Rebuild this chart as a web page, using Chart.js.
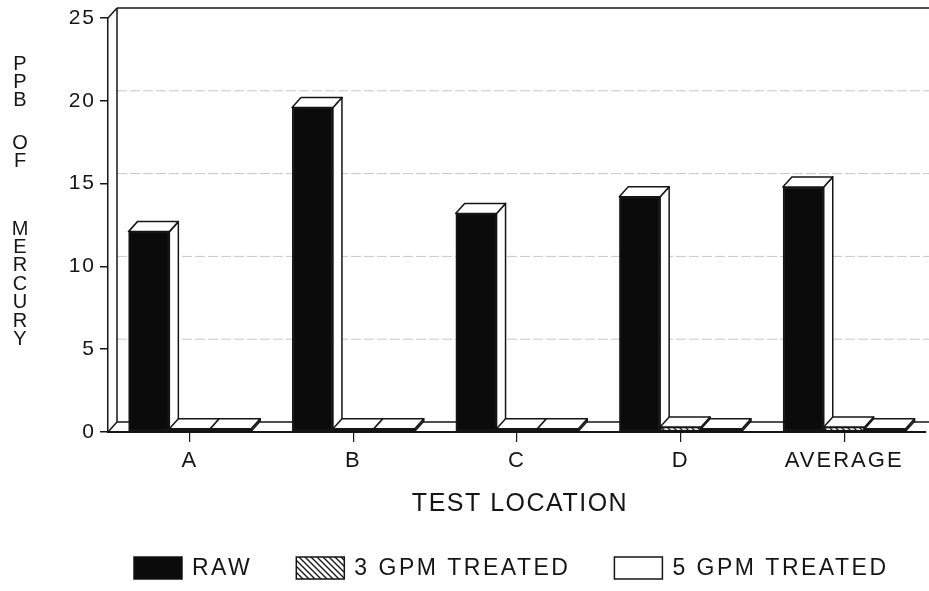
<!DOCTYPE html>
<html>
<head>
<meta charset="utf-8">
<script src="https://cdn.jsdelivr.net/npm/chart.js@4.4.0/dist/chart.umd.min.js"></script>
<style>
  html, body { margin: 0; padding: 0; background: #fff; }
  canvas { display: block; }
</style>
</head>
<body>
<canvas id="chart" width="929" height="591"></canvas>
<script>
// mercury (PPB) by test location, raw vs treated
const LOCATIONS = ['A', 'B', 'C', 'D', 'AVERAGE'];
const RAW = [12.1, 19.6, 13.2, 14.2, 14.8];
const GPM3 = [0.2, 0.2, 0.2, 0.3, 0.3];
const GPM5 = [0.2, 0.2, 0.2, 0.2, 0.2];
const Y_TICKS = [0, 5, 10, 15, 20, 25];
const SERIES_NAMES = ['RAW', '3 GPM TREATED', '5 GPM TREATED'];
const Y_TITLE_WORDS = ['PPB', 'OF', 'MERCURY'];
const X_TITLE = 'TEST LOCATION';

const FONT = "'Liberation Sans', Arial, sans-serif";
const INK = '#151515';
const DX = 9, DY = -10; // depth of the fake 3D

// diagonal hatch for the 3 GPM bars
function makeHatch() {
  const c = document.createElement('canvas');
  c.width = 6; c.height = 6;
  const g = c.getContext('2d');
  g.fillStyle = '#fff';
  g.fillRect(0, 0, 6, 6);
  g.strokeStyle = '#111';
  g.lineWidth = 1.3;
  g.beginPath();
  g.moveTo(-3, 3); g.lineTo(3, 9);
  g.moveTo(0, 0); g.lineTo(6, 6);
  g.moveTo(3, -3); g.lineTo(9, 3);
  g.stroke();
  return g.createPattern(c, 'repeat');
}
const HATCH = makeHatch();

function seg(ctx, x1, y1, x2, y2) {
  ctx.beginPath();
  ctx.moveTo(x1, y1);
  ctx.lineTo(x2, y2);
  ctx.stroke();
}

function poly(ctx, pts) {
  ctx.beginPath();
  ctx.moveTo(pts[0][0], pts[0][1]);
  pts.slice(1).forEach(p => ctx.lineTo(p[0], p[1]));
  ctx.closePath();
  ctx.fill();
  ctx.stroke();
}

const depthPlugin = {
  id: 'depth',
  beforeUpdate(chart) { chart.ctx.letterSpacing = '2px'; },
  beforeDraw(chart) { chart.ctx.letterSpacing = '2px'; },

  // back wall, floor and grid lines
  beforeDatasetsDraw(chart) {
    const { ctx, chartArea: a, scales: { y } } = chart;
    const top = y.getPixelForValue(y.max);
    const bot = y.getPixelForValue(0);
    ctx.save();
    ctx.strokeStyle = '#c6c6c6';
    ctx.lineWidth = 1;
    ctx.setLineDash([10, 3]);
    Y_TICKS.forEach(v => {
      if (v === 0 || v === y.max) return;
      const py = y.getPixelForValue(v) + DY;
      seg(ctx, a.left + DX, py, a.right + DX, py);
    });
    ctx.setLineDash([]);
    ctx.strokeStyle = INK;
    ctx.lineWidth = 1.5;
    seg(ctx, a.left + DX, top + DY, a.left + DX, bot + DY);
    seg(ctx, a.left + DX, top + DY, a.right + DX, top + DY);
    seg(ctx, a.left, top, a.left + DX, top + DY);
    seg(ctx, a.left, bot, a.left + DX, bot + DY);
    seg(ctx, a.left + DX, bot + DY, a.right + DX, bot + DY);
    ctx.restore();
  },

  // side + cap of every bar, left to right
  afterDatasetsDraw(chart) {
    const { ctx, chartArea: a } = chart;
    const metas = chart.data.datasets.map((d, i) => chart.getDatasetMeta(i));
    ctx.save();
    ctx.strokeStyle = INK;
    ctx.lineWidth = 1.5;
    ctx.lineJoin = 'round';
    for (let i = 0; i < LOCATIONS.length; i++) {
      metas.forEach(meta => {
        const el = meta.data[i];
        const { x, y, base, width } = el.getProps(['x', 'y', 'base', 'width'], true);
        const l = x - width / 2, r = x + width / 2;
        ctx.fillStyle = '#fff';
        poly(ctx, [[r, y], [r + DX, y + DY], [r + DX, base + DY], [r, base]]);
        poly(ctx, [[l, y], [l + DX, y + DY], [r + DX, y + DY], [r, y]]);
        el.draw(ctx, a);
      });
    }
    ctx.restore();
  },

  // stacked y title, x title and legend
  afterDraw(chart) {
    const { ctx, chartArea: a } = chart;
    ctx.save();
    ctx.fillStyle = INK;
    ctx.textAlign = 'center';
    ctx.textBaseline = 'middle';

    ctx.letterSpacing = '0px';
    ctx.font = `20px ${FONT}`;
    const pitch = 18.4;
    const wordGaps = [24, 49];
    let py = 64;
    Y_TITLE_WORDS.forEach((w, wi) => {
      [...w].forEach(ch => {
        ctx.fillText(ch, 20, py);
        py += pitch;
      });
      py += wordGaps[wi] || 0;
    });

    ctx.letterSpacing = '1.5px';
    ctx.font = `25px ${FONT}`;
    ctx.fillText(X_TITLE, (a.left + a.right) / 2 + 3, 504);

    // legend
    ctx.letterSpacing = '2.5px';
    ctx.font = `23px ${FONT}`;
    ctx.textAlign = 'left';
    const boxW = 48, boxH = 22, gapText = 10, gapItem = 44;
    const boxTop = 557;
    let x = a.left + 26;
    chart.data.datasets.forEach(ds => {
      ctx.fillStyle = ds.backgroundColor;
      ctx.strokeStyle = INK;
      ctx.lineWidth = 1.5;
      ctx.fillRect(x, boxTop, boxW, boxH);
      ctx.strokeRect(x, boxTop, boxW, boxH);
      x += boxW + gapText;
      ctx.fillStyle = INK;
      ctx.fillText(ds.label, x, boxTop + boxH / 2 + 1);
      x += ctx.measureText(ds.label).width + gapItem;
    });
    ctx.restore();
  }
};

const datasets = [
  { label: SERIES_NAMES[0], data: RAW, backgroundColor: '#0b0b0b' },
  { label: SERIES_NAMES[1], data: GPM3, backgroundColor: HATCH },
  { label: SERIES_NAMES[2], data: GPM5, backgroundColor: '#ffffff' }
].map(d => Object.assign(d, {
  borderColor: INK,
  borderWidth: 1.5,
  borderSkipped: false,
  categoryPercentage: 0.75,
  barPercentage: 1.0
}));

new Chart(document.getElementById('chart'), {
  type: 'bar',
  data: { labels: LOCATIONS, datasets },
  options: {
    responsive: false,
    animation: false,
    devicePixelRatio: 1,
    layout: { padding: { top: 18, right: 3, left: 0, bottom: 0 } },
    plugins: { legend: { display: false }, tooltip: { enabled: false } },
    scales: {
      x: {
        afterFit: s => { s.height = 159; },
        grid: { display: true, offset: false, drawOnChartArea: false, drawTicks: true, tickLength: 10, color: INK, lineWidth: 1.2 },
        border: { display: true, color: INK, width: 2 },
        ticks: { color: INK, font: { family: FONT, size: 22 }, padding: 6, maxRotation: 0 }
      },
      y: {
        min: 0,
        max: 25,
        afterFit: s => { s.width = 108; },
        afterBuildTicks: s => { s.ticks = Y_TICKS.map(v => ({ value: v })); },
        grid: { display: true, drawOnChartArea: false, drawTicks: true, tickLength: 8, color: INK, lineWidth: 1.5 },
        border: { display: true, color: INK, width: 1.5 },
        ticks: { color: INK, font: { family: FONT, size: 21 }, padding: 4 }
      }
    }
  },
  plugins: [depthPlugin]
});
</script>
</body>
</html>
